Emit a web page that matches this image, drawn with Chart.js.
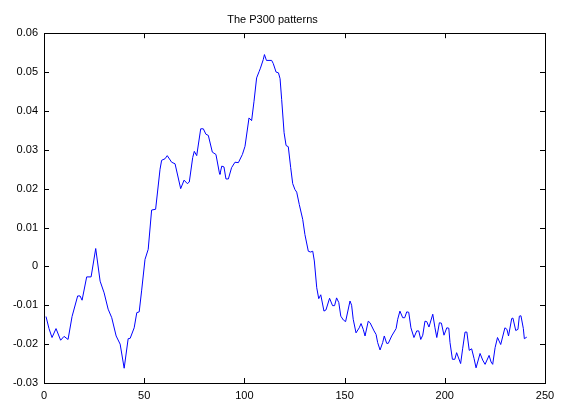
<!DOCTYPE html>
<html>
<head>
<meta charset="utf-8">
<script src="https://cdn.jsdelivr.net/npm/chart.js@4/dist/chart.umd.min.js"></script>
<style>
  html, body { margin: 0; padding: 0; background: #fff; }
  #wrap { width: 561px; height: 403px; }
</style>
</head>
<body>
<div id="wrap"><canvas id="p300Chart"></canvas></div>
<script>
// sample positions
const sampleX = [
    1, 2.5, 4, 6, 8.3, 10, 12, 14, 16.8, 18, 19, 21.3, 23.5, 25.8, 28, 30, 32, 33.8, 36, 38,
    40, 42, 43, 45, 46.3, 47.5, 48.7, 50.4, 52, 53.7, 55.7, 57.9, 58.7, 60.4, 61.5, 63.7, 65.4, 68.2, 69.9, 71.5,
    72.5, 74.2, 75, 76.2, 78.2, 79.5, 80.8, 82, 84, 85.8, 87.5, 87.8, 88.7, 89.8, 90.8, 92, 93.6, 95.3, 97, 99,
    100.3, 102.3, 103.6, 104.8, 106.1, 107.4, 108, 109.4, 110, 111, 113.6, 114.4, 115.8, 117, 117.8, 118.6, 119.8, 120.8, 121.9, 123.1,
    124.1, 125.2, 126.1, 127.4, 129.1, 130.2, 131.9, 133, 134.1, 134.9, 136.1, 137.1, 138.1, 139.7, 140.7, 142.5, 144, 145, 146, 147.1,
    148.1, 149.4, 150.5, 152.7, 153.5, 154.3, 155.7, 157.3, 158.2, 159.3, 160.2, 161.8, 162.7, 164.7, 165.7, 166.5, 167.7, 169, 169.8, 171,
    171.8, 173.5, 175.7, 176.5, 177.6, 179, 180, 181, 182, 183.1, 184.6, 186, 187, 188, 189, 190.1, 191, 192.1, 194, 195.1,
    196, 197.3, 198.3, 199.6, 201, 202, 202.6, 203.8, 205, 205.9, 207.9, 208.9, 210.1, 211, 212.2, 213.4, 214.6, 215.6, 217.6, 218.9,
    220.1, 222.1, 223.1, 223.9, 225.1, 226.3, 227.9, 230, 231, 231.8, 233.4, 234, 235.4, 236.5, 237.2, 238, 239.2, 239.7, 240.9
];

// P300 amplitude at each sample
const p300Values = [
    -0.0129, -0.016, -0.0183, -0.016, -0.019, -0.018, -0.0188, -0.0129, -0.0076, -0.0076, -0.0087, -0.0027, -0.0027, 0.0046, -0.0038, -0.0068, -0.011, -0.0132, -0.0179, -0.020,
    -0.0262, -0.0186, -0.0185, -0.0158, -0.0119, -0.0117, -0.0063, 0.0018, 0.0044, 0.0145, 0.0147, 0.025, 0.0273, 0.0277, 0.0285, 0.0268, 0.0264, 0.020, 0.0222, 0.0213,
    0.0217, 0.028, 0.0296, 0.0285, 0.0354, 0.0354, 0.034, 0.0337, 0.0294, 0.0288, 0.0241, 0.0237, 0.0258, 0.0256, 0.0225, 0.0225, 0.0254, 0.0268, 0.0267, 0.0288,
    0.0309, 0.0382, 0.0375, 0.0425, 0.0485, 0.0502, 0.051, 0.0532, 0.0545, 0.053, 0.053, 0.0522, 0.050, 0.0498, 0.0483, 0.0429, 0.0344, 0.0311, 0.0308, 0.0254,
    0.0213, 0.0198, 0.0191, 0.0159, 0.0121, 0.0082, 0.0039, 0.0037, 0.0039, 0.0014, -0.0055, -0.0083, -0.0073, -0.0115, -0.0112, -0.0082, -0.0101, -0.0101, -0.0081, -0.0093,
    -0.0128, -0.0138, -0.0142, -0.0089, -0.010, -0.0136, -0.0171, -0.0158, -0.0147, -0.0162, -0.0179, -0.0141, -0.0145, -0.0166, -0.0175, -0.0196, -0.0215, -0.0196, -0.0179, -0.0198,
    -0.0198, -0.0179, -0.016, -0.0136, -0.0115, -0.0132, -0.0132, -0.0117, -0.0118, -0.0158, -0.0183, -0.0166, -0.0166, -0.0188, -0.0177, -0.0141, -0.0142, -0.0156, -0.0123, -0.0158,
    -0.0183, -0.0145, -0.0146, -0.0177, -0.0158, -0.0159, -0.0196, -0.0239, -0.0239, -0.0222, -0.025, -0.0212, -0.0169, -0.0169, -0.0216, -0.0212, -0.0237, -0.0261, -0.0224, -0.0241,
    -0.0252, -0.0229, -0.0246, -0.0252, -0.0209, -0.0183, -0.0201, -0.0158, -0.0162, -0.0179, -0.0134, -0.0133, -0.0165, -0.0162, -0.0128, -0.0127, -0.016, -0.0186, -0.0182
];

const xTicks = [0, 50, 100, 150, 200, 250];
const yTicks = [-0.03, -0.02, -0.01, 0, 0.01, 0.02, 0.03, 0.04, 0.05, 0.06];

// MATLAB-like box with inward ticks on all four sides
const boxPlugin = {
    id: "matlabBox",
    afterDraw(chart) {
        const { ctx, chartArea: a, scales } = chart;
        const len = 5;
        ctx.save();
        ctx.strokeStyle = "#000";
        ctx.lineWidth = 1;
        ctx.strokeRect(Math.round(a.left) + 0.5, Math.round(a.top) + 0.5,
            Math.round(a.right - a.left), Math.round(a.bottom - a.top));
        ctx.beginPath();
        xTicks.forEach(v => {
            const px = Math.round(scales.x.getPixelForValue(v)) + 0.5;
            ctx.moveTo(px, a.bottom); ctx.lineTo(px, a.bottom - len);
            ctx.moveTo(px, a.top); ctx.lineTo(px, a.top + len);
        });
        yTicks.forEach(v => {
            const py = Math.round(scales.y.getPixelForValue(v)) + 0.5;
            ctx.moveTo(a.left, py); ctx.lineTo(a.left + len, py);
            ctx.moveTo(a.right, py); ctx.lineTo(a.right - len, py);
        });
        ctx.stroke();
        ctx.restore();
    }
};

const font = { family: "'Liberation Sans', Arial, sans-serif", size: 11 };

new Chart(document.getElementById("p300Chart"), {
    type: "line",
    data: {
        datasets: [{
            data: sampleX.map((x, i) => ({ x: x, y: p300Values[i] })),
            borderColor: "#0000ff",
            borderWidth: 1,
            pointRadius: 0,
            tension: 0,
            fill: false
        }]
    },
    options: {
        responsive: true,
        maintainAspectRatio: false,
        animation: false,
        layout: { padding: { left: 0, right: 16, top: 0, bottom: 0 } },
        plugins: {
            legend: { display: false },
            tooltip: { enabled: false },
            title: {
                display: true,
                text: "The P300 patterns",
                color: "#000",
                font: { family: font.family, size: 11, weight: "normal" },
                padding: { top: 13, bottom: 7 }
            }
        },
        scales: {
            x: {
                type: "linear",
                min: 0,
                max: 250,
                afterBuildTicks: s => { s.ticks = xTicks.map(v => ({ value: v })); },
                afterFit: s => { s.height = 20; },
                grid: { display: false, drawTicks: false },
                border: { display: false },
                ticks: { color: "#000", font: font, padding: 6, maxRotation: 0 }
            },
            y: {
                min: -0.03,
                max: 0.06,
                afterBuildTicks: s => { s.ticks = yTicks.map(v => ({ value: v })); },
                afterFit: s => { s.width = 44; },
                grid: { display: false, drawTicks: false },
                border: { display: false },
                ticks: {
                    color: "#000",
                    font: font,
                    padding: 6,
                    callback: v => Math.abs(v) < 1e-9 ? "0" : String(parseFloat(v.toFixed(2)))
                }
            }
        }
    },
    plugins: [boxPlugin]
});
</script>
</body>
</html>
